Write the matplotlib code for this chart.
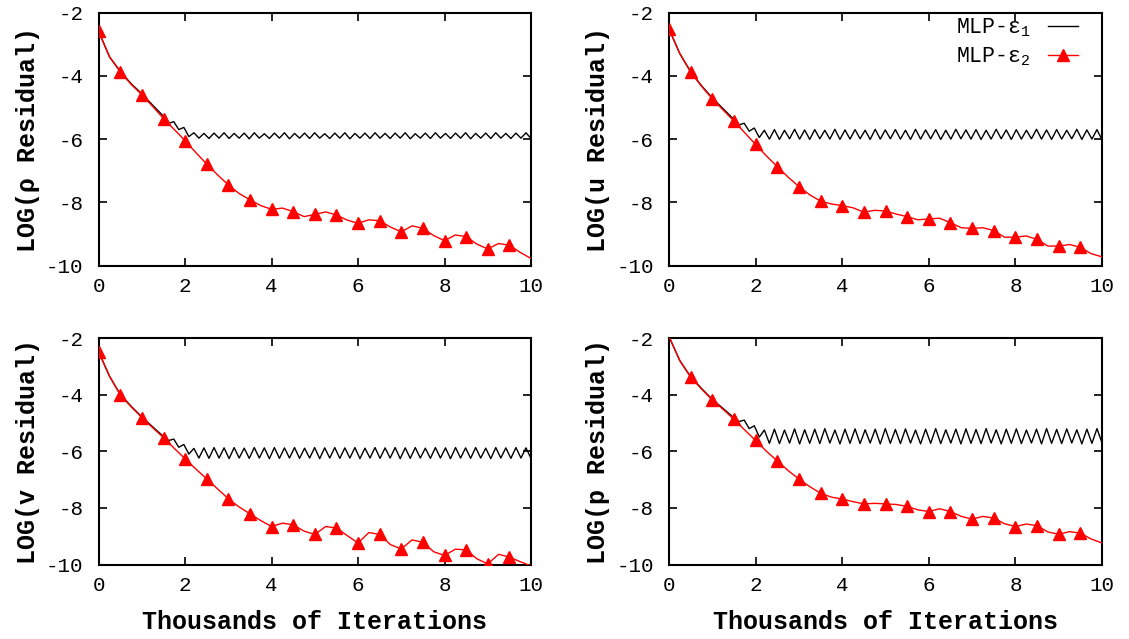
import numpy as np
import matplotlib
matplotlib.use("Agg")
import matplotlib.pyplot as plt

plt.rcParams['axes.unicode_minus'] = False
plt.rcParams['mathtext.fontset'] = 'custom'
plt.rcParams['mathtext.rm'] = 'Liberation Mono'
plt.rcParams['mathtext.it'] = 'Liberation Mono'
FONT = ['Liberation Mono', 'DejaVu Sans Mono']

# ---------------- data ----------------
red_x = [i * 0.25 for i in range(41)]

rho_red = [-2.60, -3.40, -3.88, -4.27, -4.60, -4.97, -5.35, -5.70, -6.05, -6.43,
           -6.79, -7.13, -7.45, -7.72, -7.92, -8.10, -8.22, -8.18, -8.29, -8.45,
           -8.38, -8.30, -8.40, -8.56, -8.66, -8.55, -8.58, -8.78, -8.93, -8.74,
           -8.82, -9.05, -9.21, -9.03, -9.08, -9.32, -9.47, -9.30, -9.35, -9.58, -9.77]
u_red = [-2.52, -3.30, -3.88, -4.33, -4.73, -5.08, -5.43, -5.80, -6.17, -6.53,
         -6.87, -7.20, -7.50, -7.76, -7.96, -8.05, -8.10, -8.17, -8.31, -8.25,
         -8.27, -8.37, -8.45, -8.55, -8.52, -8.50, -8.64, -8.80, -8.82, -8.80,
         -8.89, -9.10, -9.10, -9.06, -9.17, -9.38, -9.38, -9.33, -9.42, -9.62, -9.72]
v_red = [-2.49, -3.35, -4.01, -4.43, -4.81, -5.17, -5.52, -5.90, -6.27, -6.63,
         -6.98, -7.33, -7.68, -7.97, -8.21, -8.45, -8.66, -8.54, -8.60, -8.82,
         -8.94, -8.66, -8.71, -8.98, -9.24, -8.87, -8.94, -9.30, -9.45, -9.13,
         -9.22, -9.55, -9.68, -9.46, -9.48, -9.80, -9.98, -9.64, -9.74, -9.90, -10.05]
p_red = [-1.95, -2.80, -3.38, -3.80, -4.19, -4.52, -4.87, -5.25, -5.62, -6.00,
         -6.34, -6.68, -6.98, -7.25, -7.48, -7.62, -7.69, -7.78, -7.86, -7.84,
         -7.86, -7.88, -7.95, -8.07, -8.13, -8.03, -8.13, -8.30, -8.40, -8.30,
         -8.36, -8.56, -8.66, -8.57, -8.63, -8.85, -8.93, -8.84, -8.89, -9.10, -9.24]

# black curve: early part on a 0.25 grid up to 1.5, then oscillating part
black_x_early = [0.0, 0.25, 0.5, 0.75, 1.0, 1.25, 1.5]
black_x_osc = list(np.linspace(1.62, 10.0, 73))

rho_black_early = [-2.60, -3.40, -3.86, -4.25, -4.57, -4.93, -5.28]
u_black_early = [-2.52, -3.30, -3.87, -4.31, -4.70, -5.04, -5.38]
v_black_early = [-2.49, -3.35, -4.00, -4.41, -4.79, -5.14, -5.48]
p_black_early = [-1.95, -2.80, -3.37, -3.78, -4.17, -4.49, -4.82]

rho_black_osc = [-5.50, -5.45, -5.70, -5.63, -5.92, -5.80, -5.97, -5.82, -5.98, -5.81,
                 -5.97, -5.80, -5.98, -5.82, -5.97, -5.81, -5.99, -5.80, -5.97, -5.83,
                 -5.98, -5.81, -5.97, -5.80, -5.99, -5.82, -5.97, -5.81, -5.98, -5.80,
                 -5.97, -5.83, -5.98, -5.81, -5.97, -5.80, -5.99, -5.82, -5.97, -5.81,
                 -5.98, -5.80, -5.97, -5.82, -5.98, -5.81, -5.97, -5.80, -5.99, -5.83,
                 -5.97, -5.81, -5.98, -5.80, -5.97, -5.82, -5.98, -5.81, -5.97, -5.80,
                 -5.99, -5.82, -5.97, -5.81, -5.98, -5.80, -5.97, -5.82, -5.98, -5.81,
                 -5.97, -5.80, -5.98]
u_black_osc = [-5.55, -5.50, -5.75, -5.65, -5.95, -5.72, -6.00, -5.70, -6.01, -5.72,
               -5.99, -5.69, -6.00, -5.71, -6.01, -5.70, -5.99, -5.72, -6.00, -5.69,
               -6.01, -5.71, -6.00, -5.70, -5.99, -5.72, -6.01, -5.69, -6.00, -5.71,
               -5.99, -5.70, -6.00, -5.72, -6.01, -5.69, -6.00, -5.71, -5.99, -5.70,
               -6.01, -5.72, -6.00, -5.69, -5.99, -5.71, -6.00, -5.70, -6.01, -5.72,
               -6.00, -5.69, -5.99, -5.71, -6.01, -5.70, -6.00, -5.72, -5.99, -5.69,
               -6.00, -5.71, -6.01, -5.70, -6.00, -5.72, -5.99, -5.69, -6.01, -5.71,
               -6.00, -5.70, -6.02]
v_black_osc = [-5.62, -5.57, -5.86, -5.76, -6.10, -5.90, -6.24, -5.88, -6.25, -5.87,
               -6.24, -5.88, -6.26, -5.87, -6.24, -5.89, -6.25, -5.87, -6.24, -5.88,
               -6.26, -5.87, -6.25, -5.88, -6.24, -5.87, -6.25, -5.89, -6.24, -5.87,
               -6.26, -5.88, -6.24, -5.87, -6.25, -5.88, -6.24, -5.87, -6.26, -5.89,
               -6.24, -5.87, -6.25, -5.88, -6.24, -5.87, -6.26, -5.88, -6.25, -5.87,
               -6.24, -5.89, -6.25, -5.87, -6.24, -5.88, -6.26, -5.87, -6.24, -5.88,
               -6.25, -5.87, -6.24, -5.89, -6.26, -5.87, -6.24, -5.88, -6.25, -5.87,
               -6.24, -5.88, -6.25]
p_black_osc = [-4.95, -4.90, -5.20, -5.10, -5.50, -5.25, -5.72, -5.22, -5.73, -5.25,
               -5.71, -5.21, -5.74, -5.24, -5.72, -5.22, -5.73, -5.20, -5.71, -5.25,
               -5.74, -5.22, -5.72, -5.21, -5.73, -5.24, -5.71, -5.22, -5.74, -5.20,
               -5.72, -5.23, -5.73, -5.21, -5.71, -5.25, -5.74, -5.22, -5.72, -5.20,
               -5.73, -5.24, -5.71, -5.22, -5.74, -5.21, -5.72, -5.23, -5.73, -5.20,
               -5.71, -5.24, -5.74, -5.22, -5.72, -5.21, -5.73, -5.25, -5.71, -5.22,
               -5.74, -5.20, -5.72, -5.23, -5.73, -5.21, -5.71, -5.24, -5.74, -5.22,
               -5.72, -5.20, -5.70]

ylabels = ["LOG(\u03c1 Residual)", "LOG(u Residual)", "LOG(v Residual)", "LOG(p Residual)"]
xlabel = "Thousands of Iterations"
legend_labels = [r"MLP-$\varepsilon_1$", r"MLP-$\varepsilon_2$"]
xticks = [0, 2, 4, 6, 8, 10]
yticks = [-10, -8, -6, -4, -2]

panels = [
    (ylabels[0], rho_red, rho_black_early, rho_black_osc),
    (ylabels[1], u_red, u_black_early, u_black_osc),
    (ylabels[2], v_red, v_black_early, v_black_osc),
    (ylabels[3], p_red, p_black_early, p_black_osc),
]

# ---------------- figure ----------------
W, H = 1129, 639
fig = plt.figure(figsize=(W / 100, H / 100), dpi=100)

def box(l, r, t, b):
    return [l / W, 1 - b / H, (r - l) / W, (b - t) / H]

rects = [box(98.7, 531, 12.5, 265.7), box(669, 1102, 12.5, 265.7),
         box(98.7, 531, 338, 564.5), box(669, 1102, 338, 564.5)]

for i, (rect, (ylab, red, bearly, bosc)) in enumerate(zip(rects, panels)):
    ax = fig.add_axes(rect)
    bx = black_x_early + black_x_osc
    by = bearly + bosc
    ax.plot(bx, by, color='black', lw=1.0, label=legend_labels[0])
    red_arr = np.array(red)
    rx = np.array(red_x)
    ax.plot(rx, red_arr, color='#ff0000', lw=1.0, zorder=3)
    mk_idx = [k for k in range(0, 40, 2) if red_arr[k] <= -2.0]
    ax.plot(rx[mk_idx], red_arr[mk_idx], ls='none', marker='^', ms=8.5,
            color='#ff0000', zorder=4)
    ax.plot([], [], color='#ff0000', lw=1.0, marker='^', ms=8.5, label=legend_labels[1])

    ax.set_xlim(0, 10)
    ax.set_ylim(-10, -2)
    ax.set_xticks(xticks)
    ax.set_yticks(yticks)
    ax.tick_params(direction='in', length=6, width=1.2, top=True, right=True,
                   labelsize=15)
    ax.tick_params(axis='y', pad=11)
    ax.tick_params(axis='x', pad=8)
    for lbl in ax.get_xticklabels() + ax.get_yticklabels():
        lbl.set_family(FONT)
    for sp in ax.spines.values():
        sp.set_linewidth(1.5)

    wpx = rect[2] * W
    hpx = rect[3] * H
    ax.text(-(98.7 - 28) / wpx, 0.5,
            ylab, rotation=90, ha='center', va='center', transform=ax.transAxes,
            fontsize=18, fontweight='bold', family=FONT)
    if i >= 2:
        ax.text(0.5, -(622 - 564.5) / hpx, xlabel, ha='center', va='center',
                transform=ax.transAxes, fontsize=18, fontweight='bold', family=FONT)
    if i == 1:
        ax.legend(loc='upper right', frameon=False, markerfirst=False,
                  handlelength=1.4, prop={'family': FONT, 'size': 15.5},
                  borderaxespad=0.0, borderpad=0.0, labelspacing=0.3,
                  handletextpad=0.8, bbox_to_anchor=(0.945, 0.985))

fig.savefig("out.png", dpi=100)
